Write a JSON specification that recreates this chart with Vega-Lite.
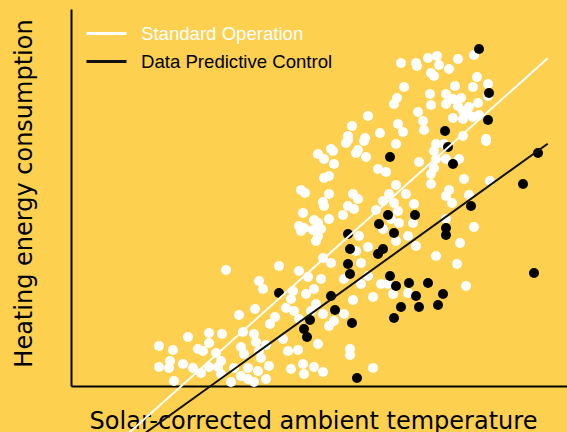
{
  "$schema": "https://vega.github.io/schema/vega-lite/v6.json",
  "autosize": "none",
  "padding": {"left": 71, "top": 9, "right": 0, "bottom": 46},
  "width": 496,
  "height": 377,
  "background": "#FDD04F",
  "config": {"view": {"stroke": null}},
  "datasets": {
    "points": [
      {"x":155,"y":116,"g":"Standard Operation"},{"x":188,"y":105,"g":"Standard Operation"},{"x":192,"y":97,"g":"Standard Operation"},{"x":168,"y":71,"g":"Standard Operation"},{"x":184,"y":77,"g":"Standard Operation"},{"x":204,"y":69,"g":"Standard Operation"},{"x":199,"y":62,"g":"Standard Operation"},{"x":138,"y":53,"g":"Standard Operation"},{"x":151,"y":52,"g":"Standard Operation"},{"x":172,"y":54,"g":"Standard Operation"},{"x":183,"y":52,"g":"Standard Operation"},{"x":117,"y":49,"g":"Standard Operation"},{"x":138,"y":43,"g":"Standard Operation"},{"x":185,"y":44,"g":"Standard Operation"},{"x":88,"y":40,"g":"Standard Operation"},{"x":102,"y":36,"g":"Standard Operation"},{"x":127,"y":37,"g":"Standard Operation"},{"x":132,"y":35,"g":"Standard Operation"},{"x":145,"y":33,"g":"Standard Operation"},{"x":170,"y":39,"g":"Standard Operation"},{"x":173,"y":32,"g":"Standard Operation"},{"x":188,"y":35,"g":"Standard Operation"},{"x":195,"y":41,"g":"Standard Operation"},{"x":99,"y":25,"g":"Standard Operation"},{"x":112,"y":22,"g":"Standard Operation"},{"x":122,"y":18,"g":"Standard Operation"},{"x":130,"y":13,"g":"Standard Operation"},{"x":88,"y":19,"g":"Standard Operation"},{"x":98,"y":18,"g":"Standard Operation"},{"x":138,"y":19,"g":"Standard Operation"},{"x":150,"y":25,"g":"Standard Operation"},{"x":147,"y":19,"g":"Standard Operation"},{"x":163,"y":18,"g":"Standard Operation"},{"x":177,"y":18,"g":"Standard Operation"},{"x":187,"y":15,"g":"Standard Operation"},{"x":198,"y":20,"g":"Standard Operation"},{"x":190,"y":28,"g":"Standard Operation"},{"x":103,"y":5,"g":"Standard Operation"},{"x":150,"y":12,"g":"Standard Operation"},{"x":170,"y":10,"g":"Standard Operation"},{"x":177,"y":7,"g":"Standard Operation"},{"x":183,"y":4,"g":"Standard Operation"},{"x":195,"y":7,"g":"Standard Operation"},{"x":160,"y":4,"g":"Standard Operation"},
      {"x":208,"y":120,"g":"Standard Operation"},{"x":228,"y":115,"g":"Standard Operation"},{"x":237,"y":109,"g":"Standard Operation"},{"x":250,"y":107,"g":"Standard Operation"},{"x":260,"y":123,"g":"Standard Operation"},{"x":290,"y":123,"g":"Standard Operation"},{"x":273,"y":107,"g":"Standard Operation"},{"x":290,"y":102,"g":"Standard Operation"},{"x":297,"y":110,"g":"Standard Operation"},{"x":310,"y":102,"g":"Standard Operation"},{"x":317,"y":102,"g":"Standard Operation"},{"x":337,"y":93,"g":"Standard Operation"},{"x":222,"y":95,"g":"Standard Operation"},{"x":235,"y":92,"g":"Standard Operation"},{"x":243,"y":97,"g":"Standard Operation"},{"x":302,"y":89,"g":"Standard Operation"},{"x":322,"y":92,"g":"Standard Operation"},{"x":282,"y":86,"g":"Standard Operation"},{"x":220,"y":87,"g":"Standard Operation"},{"x":215,"y":78,"g":"Standard Operation"},{"x":223,"y":75,"g":"Standard Operation"},{"x":245,"y":82,"g":"Standard Operation"},{"x":240,"y":75,"g":"Standard Operation"},{"x":252,"y":72,"g":"Standard Operation"},{"x":273,"y":72,"g":"Standard Operation"},{"x":228,"y":67,"g":"Standard Operation"},{"x":263,"y":65,"g":"Standard Operation"},{"x":258,"y":60,"g":"Standard Operation"},{"x":212,"y":47,"g":"Standard Operation"},{"x":247,"y":42,"g":"Standard Operation"},{"x":217,"y":35,"g":"Standard Operation"},{"x":227,"y":36,"g":"Standard Operation"},{"x":279,"y":37,"g":"Standard Operation"},{"x":279,"y":31,"g":"Standard Operation"},{"x":220,"y":17,"g":"Standard Operation"},{"x":232,"y":22,"g":"Standard Operation"},{"x":233,"y":12,"g":"Standard Operation"},{"x":243,"y":19,"g":"Standard Operation"},{"x":252,"y":14,"g":"Standard Operation"},{"x":302,"y":18,"g":"Standard Operation"},{"x":386,"y":122,"g":"Standard Operation"},{"x":395,"y":100,"g":"Standard Operation"},
      {"x":247,"y":232,"g":"Standard Operation"},{"x":253,"y":227,"g":"Standard Operation"},{"x":253,"y":208,"g":"Standard Operation"},{"x":230,"y":196,"g":"Standard Operation"},{"x":234,"y":193,"g":"Standard Operation"},{"x":252,"y":184,"g":"Standard Operation"},{"x":253,"y":180,"g":"Standard Operation"},{"x":232,"y":173,"g":"Standard Operation"},{"x":243,"y":166,"g":"Standard Operation"},{"x":247,"y":163,"g":"Standard Operation"},{"x":228,"y":160,"g":"Standard Operation"},{"x":233,"y":158,"g":"Standard Operation"},{"x":230,"y":155,"g":"Standard Operation"},{"x":242,"y":156,"g":"Standard Operation"},{"x":250,"y":157,"g":"Standard Operation"},{"x":245,"y":145,"g":"Standard Operation"},{"x":247,"y":150,"g":"Standard Operation"},{"x":252,"y":128,"g":"Standard Operation"},{"x":258,"y":192,"g":"Standard Operation"},{"x":258,"y":167,"g":"Standard Operation"},
      {"x":275,"y":243,"g":"Standard Operation"},{"x":293,"y":245,"g":"Standard Operation"},{"x":325,"y":242,"g":"Standard Operation"},{"x":262,"y":235,"g":"Standard Operation"},{"x":285,"y":233,"g":"Standard Operation"},{"x":295,"y":229,"g":"Standard Operation"},{"x":263,"y":222,"g":"Standard Operation"},{"x":348,"y":224,"g":"Standard Operation"},{"x":363,"y":235,"g":"Standard Operation"},{"x":365,"y":227,"g":"Standard Operation"},{"x":307,"y":217,"g":"Standard Operation"},{"x":315,"y":214,"g":"Standard Operation"},{"x":360,"y":212,"g":"Standard Operation"},{"x":258,"y":210,"g":"Standard Operation"},{"x":360,"y":202,"g":"Standard Operation"},{"x":325,"y":201,"g":"Standard Operation"},{"x":282,"y":192,"g":"Standard Operation"},{"x":287,"y":187,"g":"Standard Operation"},{"x":277,"y":180,"g":"Standard Operation"},{"x":283,"y":177,"g":"Standard Operation"},{"x":318,"y":192,"g":"Standard Operation"},{"x":335,"y":192,"g":"Standard Operation"},{"x":312,"y":185,"g":"Standard Operation"},{"x":323,"y":183,"g":"Standard Operation"},{"x":343,"y":182,"g":"Standard Operation"},{"x":305,"y":176,"g":"Standard Operation"},{"x":327,"y":175,"g":"Standard Operation"},{"x":272,"y":171,"g":"Standard Operation"},{"x":328,"y":163,"g":"Standard Operation"},{"x":342,"y":163,"g":"Standard Operation"},{"x":320,"y":167,"g":"Standard Operation"},{"x":288,"y":150,"g":"Standard Operation"},{"x":312,"y":157,"g":"Standard Operation"},{"x":325,"y":145,"g":"Standard Operation"},{"x":337,"y":150,"g":"Standard Operation"},{"x":345,"y":140,"g":"Standard Operation"},{"x":297,"y":139,"g":"Standard Operation"},{"x":285,"y":135,"g":"Standard Operation"},{"x":365,"y":130,"g":"Standard Operation"},
      {"x":415,"y":245,"g":"Standard Operation"},{"x":373,"y":242,"g":"Standard Operation"},{"x":375,"y":227,"g":"Standard Operation"},{"x":388,"y":227,"g":"Standard Operation"},{"x":363,"y":218,"g":"Standard Operation"},{"x":393,"y":207,"g":"Standard Operation"},{"x":419,"y":205,"g":"Standard Operation"},{"x":378,"y":196,"g":"Standard Operation"},{"x":375,"y":190,"g":"Standard Operation"},{"x":381,"y":183,"g":"Standard Operation"},{"x":398,"y":191,"g":"Standard Operation"},{"x":375,"y":167,"g":"Standard Operation"},{"x":403,"y":159,"g":"Standard Operation"},{"x":389,"y":143,"g":"Standard Operation"},
      {"x":330,"y":323,"g":"Standard Operation"},{"x":333,"y":299,"g":"Standard Operation"},{"x":326,"y":288,"g":"Standard Operation"},{"x":323,"y":282,"g":"Standard Operation"},{"x":297,"y":270,"g":"Standard Operation"},{"x":327,"y":262,"g":"Standard Operation"},{"x":332,"y":254,"g":"Standard Operation"},{"x":281,"y":260,"g":"Standard Operation"},{"x":309,"y":253,"g":"Standard Operation"},{"x":277,"y":250,"g":"Standard Operation"},{"x":277,"y":246,"g":"Standard Operation"},{"x":294,"y":248,"g":"Standard Operation"},{"x":260,"y":237,"g":"Standard Operation"},{"x":287,"y":236,"g":"Standard Operation"},
      {"x":345,"y":323,"g":"Standard Operation"},{"x":346,"y":320,"g":"Standard Operation"},{"x":357,"y":328,"g":"Standard Operation"},{"x":366,"y":330,"g":"Standard Operation"},{"x":368,"y":321,"g":"Standard Operation"},{"x":378,"y":317,"g":"Standard Operation"},{"x":387,"y":327,"g":"Standard Operation"},{"x":403,"y":331,"g":"Standard Operation"},{"x":360,"y":313,"g":"Standard Operation"},{"x":363,"y":310,"g":"Standard Operation"},{"x":406,"y":309,"g":"Standard Operation"},{"x":384,"y":300,"g":"Standard Operation"},{"x":402,"y":299,"g":"Standard Operation"},{"x":417,"y":302,"g":"Standard Operation"},{"x":359,"y":292,"g":"Standard Operation"},{"x":375,"y":292,"g":"Standard Operation"},{"x":382,"y":287,"g":"Standard Operation"},{"x":390,"y":288,"g":"Standard Operation"},{"x":360,"y":281,"g":"Standard Operation"},{"x":375,"y":282,"g":"Standard Operation"},{"x":387,"y":280,"g":"Standard Operation"},{"x":398,"y":279,"g":"Standard Operation"},{"x":407,"y":283,"g":"Standard Operation"},{"x":417,"y":290,"g":"Standard Operation"},{"x":392,"y":275,"g":"Standard Operation"},{"x":397,"y":272,"g":"Standard Operation"},{"x":347,"y":274,"g":"Standard Operation"},{"x":408,"y":271,"g":"Standard Operation"},{"x":382,"y":268,"g":"Standard Operation"},{"x":392,"y":267,"g":"Standard Operation"},{"x":402,"y":269,"g":"Standard Operation"},{"x":352,"y":265,"g":"Standard Operation"},{"x":353,"y":256,"g":"Standard Operation"},{"x":392,"y":250,"g":"Standard Operation"},{"x":415,"y":247,"g":"Standard Operation"},{"x":365,"y":242,"g":"Standard Operation"},
      {"x":208,"y":93,"g":"Data Predictive Control"},{"x":277,"y":122,"g":"Data Predictive Control"},{"x":279,"y":112,"g":"Data Predictive Control"},{"x":260,"y":90,"g":"Data Predictive Control"},{"x":264,"y":76,"g":"Data Predictive Control"},{"x":239,"y":66,"g":"Data Predictive Control"},{"x":233,"y":57,"g":"Data Predictive Control"},{"x":236,"y":49,"g":"Data Predictive Control"},{"x":281,"y":63,"g":"Data Predictive Control"},{"x":319,"y":110,"g":"Data Predictive Control"},{"x":325,"y":100,"g":"Data Predictive Control"},{"x":338,"y":103,"g":"Data Predictive Control"},{"x":330,"y":79,"g":"Data Predictive Control"},{"x":323,"y":68,"g":"Data Predictive Control"},{"x":286,"y":8,"g":"Data Predictive Control"},{"x":357,"y":103,"g":"Data Predictive Control"},{"x":345,"y":90,"g":"Data Predictive Control"},{"x":372,"y":92,"g":"Data Predictive Control"},{"x":348,"y":79,"g":"Data Predictive Control"},{"x":367,"y":81,"g":"Data Predictive Control"},{"x":463,"y":113,"g":"Data Predictive Control"},{"x":319,"y":229,"g":"Data Predictive Control"},{"x":317,"y":171,"g":"Data Predictive Control"},{"x":344,"y":171,"g":"Data Predictive Control"},{"x":308,"y":162,"g":"Data Predictive Control"},{"x":323,"y":153,"g":"Data Predictive Control"},{"x":277,"y":152,"g":"Data Predictive Control"},{"x":279,"y":137,"g":"Data Predictive Control"},{"x":312,"y":137,"g":"Data Predictive Control"},{"x":307,"y":132,"g":"Data Predictive Control"},{"x":377,"y":239,"g":"Data Predictive Control"},{"x":382,"y":222,"g":"Data Predictive Control"},{"x":400,"y":180,"g":"Data Predictive Control"},{"x":452,"y":202,"g":"Data Predictive Control"},{"x":467,"y":233,"g":"Data Predictive Control"},{"x":375,"y":158,"g":"Data Predictive Control"},{"x":375,"y":151,"g":"Data Predictive Control"},{"x":408,"y":337,"g":"Data Predictive Control"},{"x":418,"y":293,"g":"Data Predictive Control"},{"x":417,"y":266,"g":"Data Predictive Control"},{"x":374,"y":255,"g":"Data Predictive Control"}
    ],
    "lines": [
      {"x":50,"y":-54,"g":"Standard Operation"},{"x":476.7,"y":327.7,"g":"Standard Operation"},
      {"x":64.5,"y":-54,"g":"Data Predictive Control"},{"x":476.7,"y":242.3,"g":"Data Predictive Control"}
    ]
  },
  "layer": [
    {
      "data": {"name": "points"},
      "transform": [{"filter": "datum.g === 'Standard Operation'"}],
      "mark": {"type": "circle", "size": 100, "opacity": 1, "fill": "#ffffff", "stroke": null},
      "encoding": {
        "x": {"field": "x", "type": "quantitative", "scale": {"domain": [0, 496], "nice": false, "zero": false},
          "axis": {"title": "Solar-corrected ambient temperature", "ticks": false, "labels": false, "grid": false, "domainColor": "#000000", "domainWidth": 2, "titleFont": "DejaVu Sans", "titleFontSize": 24, "titleFontWeight": "normal", "titleColor": "#000000", "titleBaseline": "alphabetic", "titleY": 42, "titleX": 242}},
        "y": {"field": "y", "type": "quantitative", "scale": {"domain": [0, 377], "nice": false, "zero": false},
          "axis": {"title": "Heating energy consumption", "ticks": false, "labels": false, "grid": false, "domainColor": "#000000", "domainWidth": 2, "titleFont": "DejaVu Sans", "titleFontSize": 24, "titleFontWeight": "normal", "titleColor": "#000000", "titleBaseline": "alphabetic", "titleX": -40, "titleY": 184}}
      }
    },
    {
      "data": {"name": "points"},
      "transform": [{"filter": "datum.g === 'Data Predictive Control'"}],
      "mark": {"type": "circle", "size": 100, "opacity": 1, "fill": "#000000", "stroke": null},
      "encoding": {
        "x": {"field": "x", "type": "quantitative"},
        "y": {"field": "y", "type": "quantitative"}
      }
    },
    {
      "data": {"name": "lines"},
      "mark": {"type": "line", "strokeWidth": 2, "clip": false},
      "encoding": {
        "x": {"field": "x", "type": "quantitative"},
        "y": {"field": "y", "type": "quantitative"},
        "stroke": {"field": "g", "type": "nominal", "scale": {"domain": ["Standard Operation", "Data Predictive Control"], "range": ["#ffffff", "#111111"]},
          "legend": {"title": null, "orient": "none", "legendX": 24, "legendY": 13, "padding": 0, "symbolType": "M-2,0H2", "symbolSize": 400, "symbolStrokeWidth": 3, "labelFont": "Liberation Sans", "labelFontSize": 18.6, "labelOffset": 23, "labelLimit": 0, "rowPadding": 6,
            "encode": {"labels": {"update": {"fill": {"signal": "datum.label === 'Standard Operation' ? '#ffffff' : '#000000'"}}}}}}
      }
    }
  ]
}
